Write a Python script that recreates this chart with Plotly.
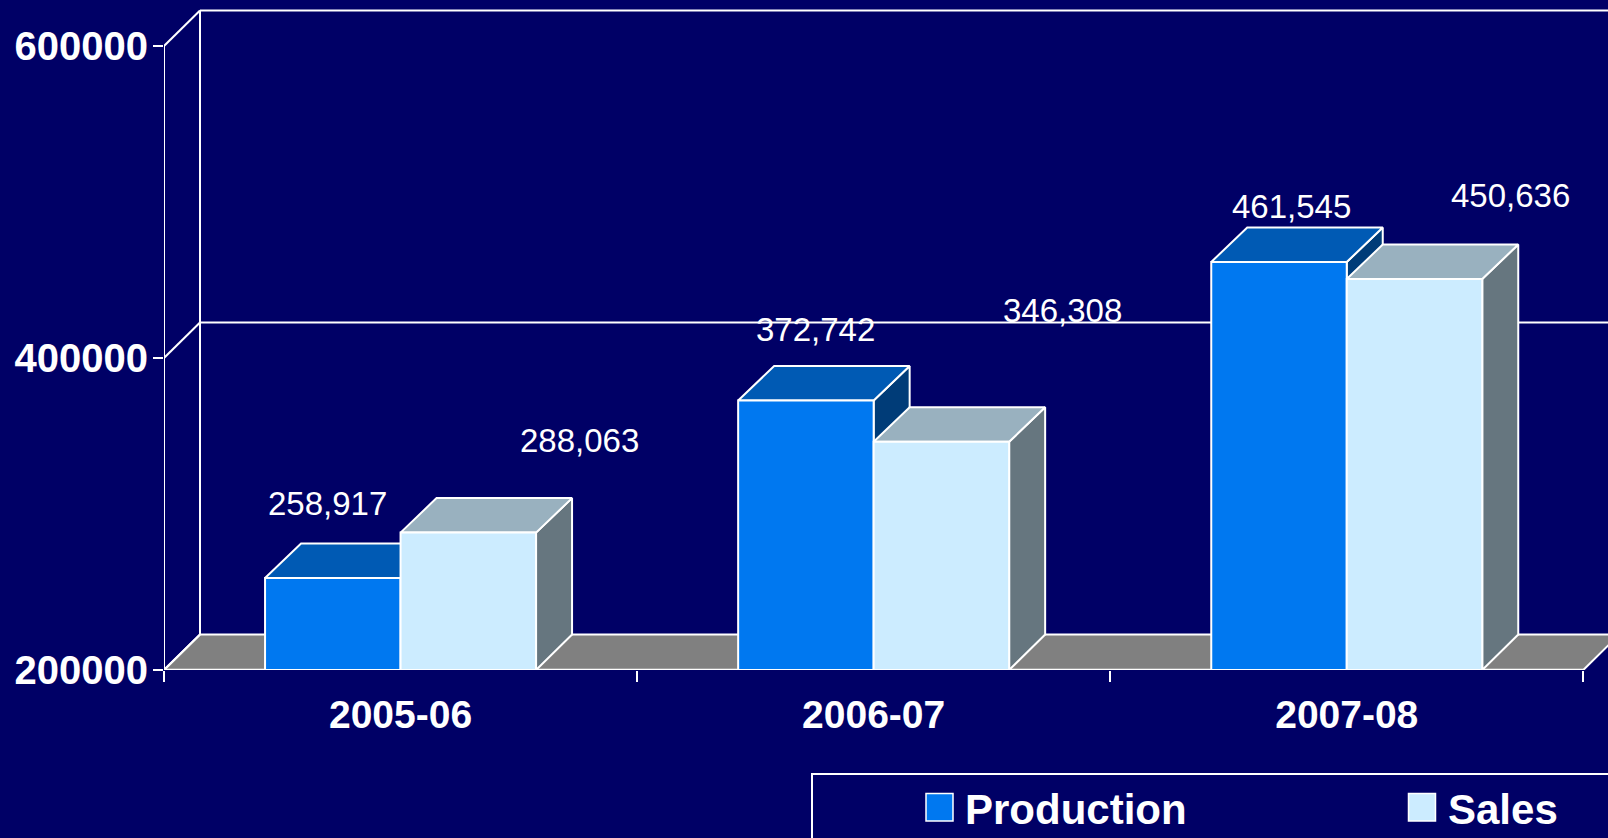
import plotly.graph_objects as go

categories = ["2005-06", "2006-07", "2007-08"]
production = [258917, 372742, 461545]
sales = [288063, 346308, 450636]
y_ticks = [200000, 400000, 600000]
series_names = ["Production", "Sales"]

# page geometry
W, H = 1608, 838
ML, MB = 164, 168
PW, PH = W - ML, H - MB
PX_PER_CAT = 473.1
PX_PER_UNIT = 1.56 / 1000
X_MIN = -0.5
X_MAX = X_MIN + PW / PX_PER_CAT
Y_MIN = 200000
Y_MAX = Y_MIN + PH / PX_PER_UNIT
DX = 36 / PX_PER_CAT
DY = 35.5 / PX_PER_UNIT
TOP_DY = 34.5 / PX_PER_UNIT
BAR_W = 135.5 / PX_PER_CAT

BG = "#000066"
WHITE = "#FFFFFF"
FONT = "Liberation Sans"
front = ["#0078F0", "#CCECFF"]
top = ["#005AB4", "#99B1BF"]
side = ["#003C78", "#66767F"]

# per-label pixel nudges from the (category, value) anchor
label_dx = [[-73.5, -58.6, -54.8], [178.5, 188.8, 163.9]]
label_dy = [[74.5, 71.5, 55.3], [92.6, 130.8, 84.0]]

fig = go.Figure()


def poly(xs, ys, fill, lw=2):
    fig.add_trace(go.Scatter(x=xs, y=ys, mode="lines", fill="toself", fillcolor=fill,
                             line=dict(color=WHITE, width=lw), hoverinfo="skip",
                             showlegend=False, cliponaxis=False))


def seg(xs, ys, lw=2):
    fig.add_trace(go.Scatter(x=xs, y=ys, mode="lines", line=dict(color=WHITE, width=lw),
                             hoverinfo="skip", showlegend=False, cliponaxis=False))


X_END = X_MIN + len(categories)
# floor
poly([X_MIN, X_MIN + DX, X_END + DX, X_END, X_MIN],
     [Y_MIN, Y_MIN + DY, Y_MIN + DY, Y_MIN, Y_MIN], "#808080", 2)
seg([X_MIN, X_END], [Y_MIN, Y_MIN], 2.5)
# walls and gridlines
seg([X_MIN, X_MIN], [y_ticks[0], y_ticks[-1]])
seg([X_MIN + DX, X_MIN + DX], [y_ticks[0] + DY, y_ticks[-1] + DY])
for t in y_ticks:
    seg([X_MIN, X_MIN + DX], [t, t + DY])
for t in y_ticks[1:]:
    seg([X_MIN + DX, X_END + DX], [t + DY, t + DY])

# 3-D bars, painted back to front within each group
for i in range(len(categories)):
    for s, vals in enumerate([production, sales]):
        v = vals[i]
        x0 = i + (s - 1) * BAR_W
        x1 = x0 + BAR_W
        poly([x1, x1 + DX, x1 + DX, x1, x1], [v, v + TOP_DY, Y_MIN + DY, Y_MIN, v], side[s])
        poly([x0, x0 + DX, x1 + DX, x1, x0], [v, v + TOP_DY, v + TOP_DY, v, v], top[s])
        poly([x0, x1, x1, x0, x0], [Y_MIN, Y_MIN, v, v, Y_MIN], front[s], 2)

annotations = []
for s, vals in enumerate([production, sales]):
    for i, v in enumerate(vals):
        annotations.append(dict(x=i, y=v, xref="x", yref="y", text=f"{v:,}", showarrow=False,
                                xshift=label_dx[s][i], yshift=label_dy[s][i],
                                xanchor="center", yanchor="middle",
                                font=dict(family=FONT, size=33, color=WHITE)))


def px(x):
    return (x - ML) / PW


def py(y):
    return (PH - y) / PH


# legend box, running past the page edges as in the reference
shapes = [dict(type="rect", xref="paper", yref="paper", x0=px(812), x1=px(1650), y0=py(774), y1=py(880),
               line=dict(color=WHITE, width=2), fillcolor="rgba(0,0,0,0)")]
for name, color, sx, tx in zip(series_names, front, [926, 1408.5], [962.5, 1446]):
    shapes.append(dict(type="rect", xref="paper", yref="paper", x0=px(sx), x1=px(sx + 27),
                       y0=py(793.5), y1=py(821), line=dict(color=WHITE, width=1.5), fillcolor=color))
    annotations.append(dict(xref="paper", yref="paper", x=px(tx), y=py(809), text=f"<b>{name}</b>",
                            showarrow=False, xanchor="left", yanchor="middle",
                            font=dict(family=FONT, size=42, color=WHITE)))

fig.update_layout(
    width=W, height=H, margin=dict(l=ML, r=0, t=0, b=MB, pad=0),
    paper_bgcolor=BG, plot_bgcolor=BG, showlegend=False,
    annotations=annotations, shapes=shapes,
    xaxis=dict(range=[X_MIN, X_MAX], showgrid=False, zeroline=False, showline=False,
               tickmode="array", tickvals=list(range(len(categories))), ticktext=categories,
               ticks="", ticklabelstandoff=18,
               tickfont=dict(family=FONT, size=39, color=WHITE, weight=700),
               minor=dict(tickmode="array", tickvals=[X_MIN + k for k in range(len(categories) + 1)],
                          ticks="outside", ticklen=11, tickcolor=WHITE, tickwidth=2, showgrid=False)),
    yaxis=dict(range=[Y_MIN, Y_MAX], showgrid=False, zeroline=False, showline=False,
               tickmode="array", tickvals=y_ticks, ticktext=[str(t) for t in y_ticks],
               ticks="outside", ticklen=10, tickcolor=WHITE, tickwidth=2, ticklabelstandoff=-3,
               tickfont=dict(family=FONT, size=40, color=WHITE, weight=700)),
)

fig.write_html("out.html", config=dict(displayModeBar=False),
               post_script="document.body.style.margin='0';")
